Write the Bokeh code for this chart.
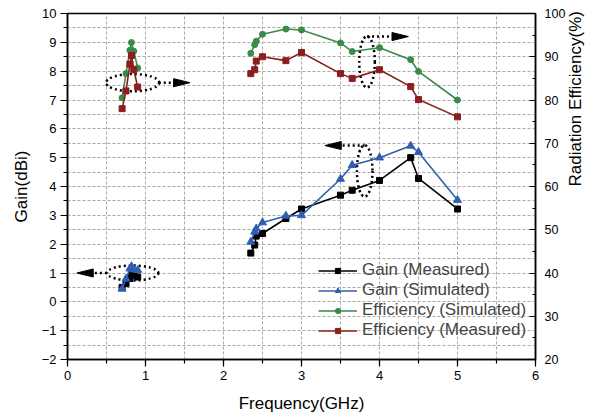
import math
from bokeh.plotting import figure
from bokeh.models import Range1d, LinearAxis, SingleIntervalTicker, Legend, LegendItem
from bokeh.embed import file_html
from bokeh.resources import INLINE

# ---- data ----
freq_low = [0.70, 0.75, 0.80, 0.82, 0.85, 0.90]
freq_high = [2.35, 2.40, 2.42, 2.50, 2.80, 3.00, 3.50, 3.65, 4.00, 4.40, 4.50, 5.00]

gain_meas_low = [0.50, 0.63, 0.81, 0.96, 0.92, 0.86]
gain_meas_high = [1.69, 1.97, 2.28, 2.37, 2.89, 3.22, 3.70, 3.87, 4.21, 5.00, 4.28, 3.22]

gain_sim_low = [0.45, 0.80, 1.15, 1.23, 1.12, 1.10]
gain_sim_high = [2.08, 2.43, 2.54, 2.75, 2.98, 3.00, 4.26, 4.74, 5.00, 5.41, 5.19, 3.53]

eff_sim_low = [80.5, 86.1, 91.5, 93.3, 91.3, 87.4]
eff_sim_high = [90.8, 92.8, 93.6, 95.2, 96.4, 96.2, 93.2, 91.2, 92.1, 89.3, 86.6, 80.0]

eff_meas_low = [78.0, 82.1, 88.3, 90.3, 87.0, 83.0]
eff_meas_high = [86.1, 87.0, 89.0, 90.0, 89.1, 91.0, 86.1, 85.0, 87.0, 83.1, 80.1, 76.1]

# annotation ellipses (data units) and dotted arrows
ell_x = [0.835, 0.835, 3.84, 3.81]
ell_y = [7.60, 1.00, 8.32, 4.54]
ell_w = [0.68, 0.66, 0.20, 0.20]
ell_h = [0.60, 0.52, 1.78, 1.79]
arr_x0 = [1.17, 0.505, 3.84, 3.81]
arr_y = [7.60, 1.00, 9.20, 5.42]
arr_tip = [1.57, 0.12, 4.37, 3.30]
head_len = 0.21
head_half = 0.14

FONT = "Liberation Sans"

p = figure(width=598, height=417, x_range=Range1d(0, 6), y_range=Range1d(-2, 10),
           output_backend="svg", toolbar_location=None,
           min_border_left=67, min_border_right=63, min_border_top=13, min_border_bottom=58,
           x_axis_label="Frequency(GHz)", y_axis_label="Gain(dBi)")
p.extra_y_ranges = {"eff": Range1d(20, 100)}
p.background_fill_color = "white"
p.border_fill_color = "white"
p.outline_line_color = "black"
p.outline_line_width = 1.5
p.outline_line_alpha = 1

right = LinearAxis(y_range_name="eff", axis_label="Radiation Efficiency(%)",
                   ticker=SingleIntervalTicker(interval=10, num_minor_ticks=2))
p.add_layout(right, "right")

p.below[0].ticker = SingleIntervalTicker(interval=1, num_minor_ticks=2)
p.left[0].ticker = SingleIntervalTicker(interval=1, num_minor_ticks=2)

for ax in p.axis:
    ax.axis_line_width = 1.5
    ax.axis_line_color = "black"
    ax.major_tick_line_color = "black"
    ax.minor_tick_line_color = "black"
    ax.major_tick_line_width = 1.2
    ax.minor_tick_line_width = 1.2
    ax.major_label_text_font = FONT
    ax.major_label_text_font_size = "13px"
    ax.major_label_text_color = "black"
    ax.axis_label_text_font = FONT
    ax.axis_label_text_font_size = "17px"
    ax.axis_label_text_font_style = "normal"
    ax.axis_label_text_color = "black"

for ax in p.left + p.below:
    ax.major_tick_out = 7
    ax.major_tick_in = 0
    ax.minor_tick_out = 4
    ax.minor_tick_in = 0
    ax.major_label_standoff = 4
    ax.axis_label_standoff = 8
p.below[0].axis_label_standoff = 11

right.major_tick_out = 0
right.major_tick_in = 6
right.minor_tick_out = 0
right.minor_tick_in = 3
right.major_label_standoff = 9
right.axis_label_standoff = 7
right.major_label_text_font_size = "12.5px"
right.axis_label_orientation = math.pi / 2

p.xgrid.ticker = SingleIntervalTicker(interval=0.5)
p.ygrid.ticker = SingleIntervalTicker(interval=0.5)
for g in (p.xgrid, p.ygrid):
    g.grid_line_color = "#a8a8a8"
    g.grid_line_dash = "3 2"
    g.grid_line_width = 1

# annotations
p.ellipse(x=ell_x, y=ell_y, width=ell_w, height=ell_h, fill_alpha=0,
          line_color="black", line_width=2.5, line_dash="2 3")
seg_x1 = [t - head_len if t > x0 else t + head_len for x0, t in zip(arr_x0, arr_tip)]
p.segment(x0=arr_x0, y0=arr_y, x1=seg_x1, y1=arr_y, line_color="black",
          line_width=2.5, line_dash="2 3")
heads_x = [[t, b, b] for t, b in zip(arr_tip, seg_x1)]
heads_y = [[y, y + head_half, y - head_half] for y in arr_y]
p.patches(xs=heads_x, ys=heads_y, fill_color="black", line_color="black")

series = [
    ("Gain (Measured)", gain_meas_low, gain_meas_high, "black", "square", 6, "default"),
    ("Gain (Simulated)", gain_sim_low, gain_sim_high, "#2f5fb0", "triangle", 8, "default"),
    ("Efficiency (Simulated)", eff_sim_low, eff_sim_high, "#3a8a48", "circle", 6, "eff"),
    ("Efficiency (Measured)", eff_meas_low, eff_meas_high, "#8b1e1e", "square", 6, "eff"),
]

items = []
for label, lo, hi, col, mk, sz, rng in series:
    renders = []
    for fx, fy in ((freq_low, lo), (freq_high, hi)):
        l = p.line(fx, fy, line_color=col, line_width=1.6, y_range_name=rng)
        s = p.scatter(fx, fy, marker=mk, size=sz, fill_color=col, line_color=col,
                      y_range_name=rng)
        renders.append((l, s))
    items.append(LegendItem(label=label, renderers=list(renders[1])))

legend = Legend(items=items, location=(251, 19), border_line_alpha=0,
                background_fill_alpha=0, padding=0, margin=0,
                label_text_font=FONT, label_text_font_size="17px",
                glyph_width=39, glyph_height=13, label_height=20,
                spacing=0, label_standoff=5)
p.add_layout(legend)

open("out.html", "w").write(file_html(p, INLINE))
